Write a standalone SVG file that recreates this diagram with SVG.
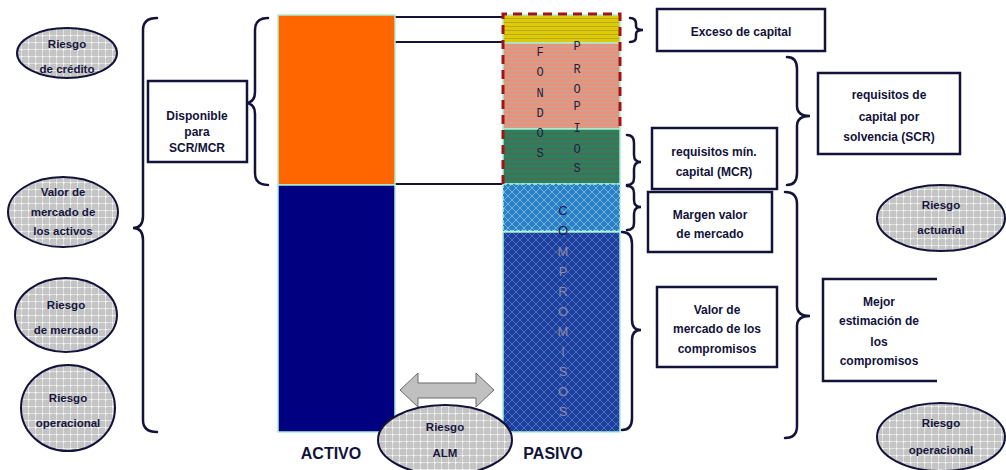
<svg xmlns="http://www.w3.org/2000/svg" width="1006" height="470" viewBox="0 0 1006 470">
<defs>
<style>
.box{fill:#fff;stroke:#12123a;stroke-width:2.5}
.br{fill:none;stroke:#12123a;stroke-width:2.5;stroke-linecap:round}
.ln{stroke:#12123a;stroke-width:2}
.ell{fill:url(#dots);stroke:#12123a;stroke-width:2}
.t{font-family:"Liberation Sans",Arial,sans-serif;font-weight:bold;font-size:12px;fill:#12123a;text-anchor:middle}
.et{font-family:"Liberation Sans",Arial,sans-serif;font-weight:bold;font-size:11.5px;fill:#16163e;text-anchor:middle}
.big{font-family:"Liberation Sans",Arial,sans-serif;font-weight:bold;font-size:16px;fill:#12123a;text-anchor:middle}
.mono{font-family:"Liberation Mono","DejaVu Sans Mono",monospace;font-size:12px;fill:#1e1e40;text-anchor:middle}
.vs{font-family:"Liberation Sans",Arial,sans-serif;font-size:13px;text-anchor:middle}
.col{stroke:#a8f0d4;stroke-width:1.5}
</style>
<pattern id="dots" width="7" height="7" patternUnits="userSpaceOnUse">
<rect width="7" height="7" fill="#c4c4c4"/>
<rect x="0" y="0" width="7" height="1" fill="#e2e2e2"/>
<rect x="0" y="0" width="1" height="7" fill="#e2e2e2"/>
<rect x="0" y="0" width="1.5" height="1.5" fill="#ffffff"/>
</pattern>
<pattern id="yel" width="4" height="4" patternUnits="userSpaceOnUse">
<rect width="4" height="4" fill="#dccb06"/>
<rect y="2" width="4" height="1" fill="#bca81a"/>
</pattern>
<pattern id="sal" width="4" height="4" patternUnits="userSpaceOnUse">
<rect width="4" height="4" fill="#e8927c"/>
<rect y="2" width="4" height="1.2" fill="#c8a494"/>
</pattern>
<pattern id="grn" width="5" height="5" patternUnits="userSpaceOnUse">
<rect width="5" height="5" fill="#2e7e60"/>
<rect y="3" width="5" height="1.5" fill="#506a50"/>
</pattern>
<pattern id="lbl" width="8" height="8" patternUnits="userSpaceOnUse">
<rect width="8" height="8" fill="#2a80c4"/>
<path d="M0,0 L8,8 M8,0 L0,8" stroke="#74b0de" stroke-width="1"/>
</pattern>
<pattern id="dbl" width="8" height="8" patternUnits="userSpaceOnUse">
<rect width="8" height="8" fill="#1c3e9c"/>
<path d="M0,0 L8,8 M8,0 L0,8" stroke="#4c6cbc" stroke-width="1"/>
</pattern>
</defs>
<rect width="1006" height="470" fill="#ffffff"/>

<g id="connectors">
<line class="ln" x1="395" y1="17" x2="503" y2="17"/>
<line class="ln" x1="395" y1="42" x2="503" y2="42"/>
<line class="ln" x1="395" y1="184" x2="503" y2="184"/>
<path class="br" d="M157,18 Q143,18 143,30 L143,216 Q143,228 133,228 Q143,228 143,240 L143,420 Q143,432 157,432"/>
<path class="br" d="M268,18 Q255,18 255,30 L255,92 Q255,103 245,103 Q255,103 255,114 L255,173 Q255,185 268,185"/>
<path class="br" d="M630,18 Q636,18 636,24 L636,26 Q636,30 643,30 Q636,30 636,34 L636,37 Q636,42 630,42"/>
<path class="br" d="M627,135 Q634,135 634,143 L634,155 Q634,162 641,162 Q634,162 634,169 L634,178 Q634,185 627,185"/>
<path class="br" d="M627,186 Q634,186 634,193 L634,200 Q634,207 641,207 Q634,207 634,214 L634,223 Q634,230 627,230"/>
<path class="br" d="M622,232 Q632,232 632,244 L632,320 Q632,330 641,330 Q632,330 632,340 L632,418 Q632,430 622,430"/>
<path class="br" d="M787,57 Q797,57 797,69 L797,106 Q797,116 810,116 Q797,116 797,126 L797,173 Q797,185 787,185"/>
<path class="br" d="M785,192 Q797,192 797,204 L797,306 Q797,316 810,316 Q797,316 797,326 L797,426 Q797,438 785,438"/>
<polygon points="400,390 418,373 418,383 476,383 476,373 494,390 476,407 476,398 418,398 418,407" fill="#c0c0c0" stroke="#6a6a6a" stroke-width="1"/>
</g>

<g id="activo">
<rect class="col" x="278" y="15" width="117" height="170" fill="#ff6600"/>
<rect class="col" x="278" y="185" width="117" height="247" fill="#000080"/>
<text class="big" x="331" y="459">ACTIVO</text>
</g>

<g id="pasivo">
<rect class="col" x="503" y="15" width="117" height="28" fill="url(#yel)"/>
<rect class="col" x="503" y="43" width="117" height="86" fill="url(#sal)"/>
<rect class="col" x="503" y="129" width="117" height="55" fill="url(#grn)"/>
<rect class="col" x="503" y="184" width="117" height="47" fill="url(#lbl)" stroke-dasharray="4,2"/>
<rect class="col" x="503" y="232" width="117" height="200" fill="url(#dbl)"/>
<path d="M503,184 L503,14 L620,14 L620,128" fill="none" stroke="#a01414" stroke-width="3" stroke-dasharray="9,6"/>
<g class="mono">
<text x="540" y="56">F</text><text x="540" y="76">O</text><text x="540" y="97">N</text><text x="540" y="117">D</text><text x="540" y="137">O</text><text x="540" y="157">S</text>
<text x="577" y="50">P</text><text x="577" y="73">R</text><text x="577" y="93">O</text><text x="577" y="110">P</text><text x="577" y="132">I</text><text x="577" y="153">O</text><text x="577" y="172">S</text>
</g>
<g class="vs">
<text x="563" y="215" fill="#1a1a50">C</text><text x="563" y="235" fill="#1a1a50">O</text>
<g fill="#8a8aa6"><text x="563" y="256">M</text><text x="563" y="276">P</text><text x="563" y="296">R</text><text x="563" y="316">O</text><text x="563" y="336">M</text><text x="563" y="356">I</text><text x="563" y="376">S</text><text x="563" y="396">O</text><text x="563" y="416">S</text></g>
</g>
<text class="big" x="553" y="459">PASIVO</text>
</g>

<g id="disponible">
<rect class="box" x="148" y="81" width="99" height="81"/>
<text class="t" x="197" y="120">Disponible</text>
<text class="t" x="197" y="136">para</text>
<text class="t" x="197" y="152" font-size="13">SCR/MCR</text>
</g>

<g id="exceso">
<rect class="box" x="657" y="9" width="168" height="42"/>
<text class="t" x="741" y="36">Exceso de capital</text>
</g>

<g id="scr">
<rect class="box" x="818" y="73" width="142" height="81"/>
<text class="t" x="889" y="99">requisitos de</text>
<text class="t" x="889" y="121">capital  por</text>
<text class="t" x="889" y="141">solvencia (SCR)</text>
</g>

<g id="mcr">
<rect class="box" x="652" y="128" width="125" height="61"/>
<text class="t" x="714" y="156">requisitos mín.</text>
<text class="t" x="714" y="176">capital (MCR)</text>
</g>

<g id="margen">
<rect class="box" x="648" y="192" width="124" height="60"/>
<text class="t" x="710" y="219">Margen valor</text>
<text class="t" x="710" y="238">de mercado</text>
</g>

<g id="valor-compromisos">
<rect class="box" x="657" y="287" width="120" height="80"/>
<text class="t" x="717" y="314">Valor de</text>
<text class="t" x="717" y="333">mercado de los</text>
<text class="t" x="717" y="353">compromisos</text>
</g>

<g id="mejor-estimacion">
<path class="box" fill="#fff" d="M937,279 L823,279 L823,381 L937,381"/>
<text class="t" x="879" y="306">Mejor</text>
<text class="t" x="879" y="325">estimación de</text>
<text class="t" x="879" y="346">los</text>
<text class="t" x="879" y="365">compromisos</text>
</g>

<g id="riesgo-credito">
<ellipse class="ell" cx="67" cy="53" rx="50" ry="25"/>
<text class="et" x="67" y="48">Riesgo</text>
<text class="et" x="67" y="73">de crédito</text>
</g>
<g id="valor-activos">
<ellipse class="ell" cx="63" cy="212" rx="55" ry="35"/>
<text class="et" x="63" y="196">Valor de</text>
<text class="et" x="63" y="216">mercado de</text>
<text class="et" x="63" y="235">los activos</text>
</g>
<g id="riesgo-mercado">
<ellipse class="ell" cx="66" cy="315" rx="51" ry="37"/>
<text class="et" x="66" y="309">Riesgo</text>
<text class="et" x="66" y="334">de mercado</text>
</g>
<g id="riesgo-operacional-izq">
<ellipse class="ell" cx="68" cy="408" rx="47" ry="43"/>
<text class="et" x="68" y="402">Riesgo</text>
<text class="et" x="68" y="427">operacional</text>
</g>
<g id="riesgo-actuarial">
<ellipse class="ell" cx="941" cy="218" rx="64" ry="33"/>
<text class="et" x="941" y="209">Riesgo</text>
<text class="et" x="941" y="234">actuarial</text>
</g>
<g id="riesgo-operacional-der">
<ellipse class="ell" cx="941" cy="437" rx="64" ry="34"/>
<text class="et" x="941" y="427">Riesgo</text>
<text class="et" x="941" y="454">operacional</text>
</g>
<g id="riesgo-alm">
<ellipse class="ell" cx="445" cy="440" rx="67" ry="35"/>
<text class="et" x="445" y="431">Riesgo</text>
<text class="et" x="445" y="457">ALM</text>
</g>
</svg>
